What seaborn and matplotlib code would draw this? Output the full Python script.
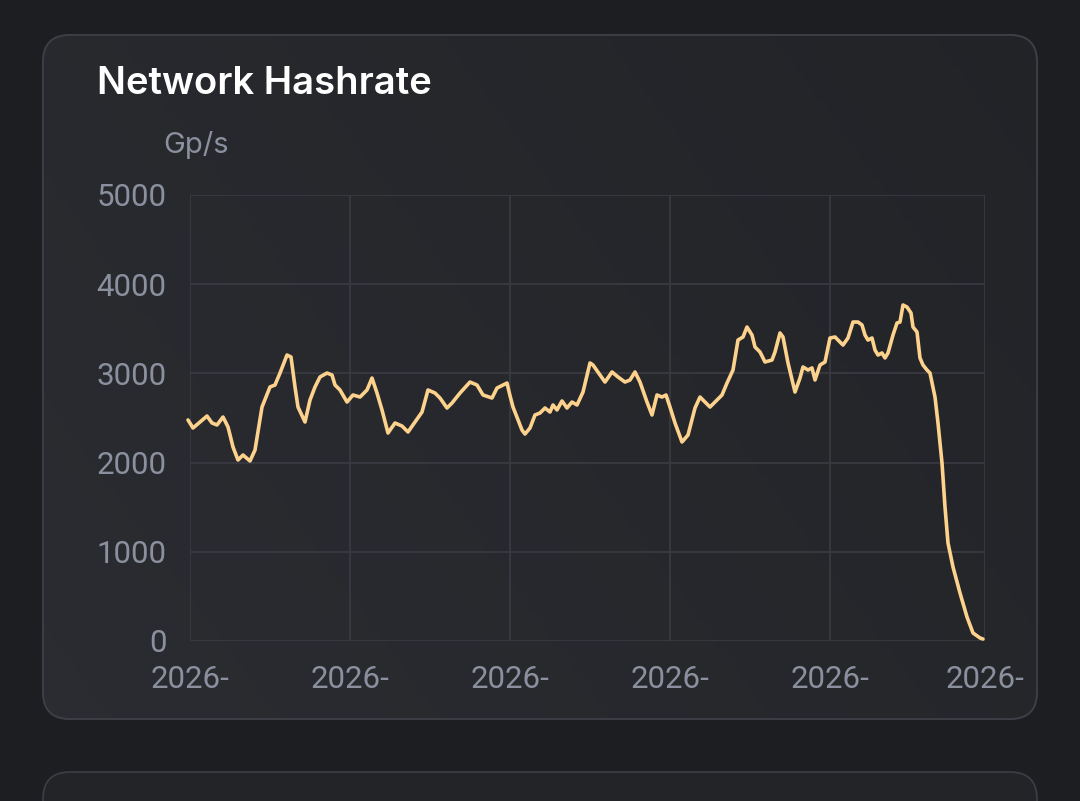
import numpy as np
import pandas as pd
import matplotlib
matplotlib.use("Agg")
import matplotlib.pyplot as plt
import seaborn as sns
from matplotlib.patches import FancyBboxPatch
from matplotlib.colors import LinearSegmentedColormap

# ---- data (x in hours from start of window, y in Gp/s) ----
hours = [-2, 3, 10, 17, 22, 27, 33, 38, 43, 48, 53, 60, 65, 72, 80, 85, 90, 97, 101, 105, 108, 115, 120, 125,
         130, 137, 142, 145, 150, 157, 163, 170, 177, 182, 187, 192, 198, 205, 212, 218, 225, 232, 238, 245,
         250, 257, 262, 270, 280, 287, 293, 302, 307, 313, 317, 320,
         323, 332, 335, 340, 345, 350, 355, 360, 363, 367, 372, 377, 382, 387, 393, 400, 403, 410, 415, 422,
         428, 435, 440, 445, 450, 457, 462, 467, 472, 476, 480, 485, 492, 498, 505, 510, 520, 527, 532, 537,
         543, 548, 553, 557, 562, 565, 570, 575, 582, 585, 590, 593, 598, 605, 610, 613, 618, 622, 625, 630, 635,
         640, 645, 650, 653, 658, 663, 668, 672, 675, 678, 682, 685, 688, 692, 695, 698, 703, 707, 710, 713,
         717, 721, 723, 727, 730, 733, 737, 740, 745, 748, 752, 755, 758, 763, 770, 777, 783, 790, 793]
hashrate = [2478, 2388, 2455, 2522, 2444, 2422, 2511, 2400, 2175, 2029, 2085, 2018, 2141, 2623, 2848, 2870,
            3004, 3206, 3184, 2848, 2623, 2455, 2702, 2848, 2960, 3004, 2982, 2870, 2814, 2679, 2758, 2735,
            2814, 2948, 2780, 2590, 2332, 2444, 2410, 2343, 2455, 2567, 2814, 2780, 2724, 2612, 2668, 2780,
            2903, 2870, 2758, 2724, 2836, 2870, 2892, 2750,
            2623, 2365, 2320, 2388, 2534, 2556, 2612, 2567, 2646, 2590, 2691, 2612, 2679, 2646, 2791, 3117,
            3094, 2982, 2903, 3016, 2960, 2903, 2926, 3016, 2903, 2679, 2534, 2758, 2735, 2758, 2623, 2444,
            2231, 2309, 2612, 2735, 2623, 2702, 2758, 2892, 3038, 3374, 3408, 3520, 3430, 3296, 3240, 3128,
            3150, 3240, 3453, 3408, 3117, 2791, 2948, 3072, 3038, 3061, 2926, 3094, 3128,
            3397, 3408, 3352, 3318, 3397, 3576, 3576, 3543, 3430, 3374, 3397, 3262, 3206, 3229, 3173, 3229,
            3430, 3565, 3576, 3767, 3744, 3677, 3520, 3464, 3173, 3094, 3038, 3004, 2735, 2444, 1996, 1502,
            1099, 830, 538, 269, 90, 34, 22]
n = min(len(hours), len(hashrate))
df = pd.DataFrame({"hour": hours[:n], "hashrate": hashrate[:n]})

tick_pos = [0, 160, 320, 480, 640, 795]
tick_labels = ["2026-"] * 6
y_ticks = [0, 1000, 2000, 3000, 4000, 5000]

# ---- style ----
BG = "#1d1e21"
GRID = "#393a41"
TXT = "#8b909e"
LINE = "#fdd28c"

sns.set_theme(style="dark")
plt.rcParams["font.family"] = ["Roboto", "DejaVu Sans"]

fig = plt.figure(figsize=(10.8, 8.01), dpi=100)
fig.patch.set_facecolor(BG)

# card with subtle gradient
card = FancyBboxPatch((43 / 1080, 1 - 719 / 801), (1037 - 43) / 1080, (719 - 35) / 801,
                      boxstyle="round,pad=0,rounding_size=0.025", transform=fig.transFigure,
                      facecolor="#26272c", edgecolor="#3c3d44", linewidth=1.3, zorder=-3,
                      mutation_aspect=1080 / 801)
fig.patches.append(card)
gax = fig.add_axes([0, 0, 1, 1], zorder=-2)
gax.set_axis_off()
gx = np.linspace(0, 1, 256)
GX, GY = np.meshgrid(gx, gx)
grad = 0.65 * (1 - GX) + 0.35 * GY
cmap = LinearSegmentedColormap.from_list("c", ["#222327", "#2c2d32"])
im = gax.imshow(grad, extent=[0, 1, 0, 1], cmap=cmap, aspect="auto", origin="upper",
                transform=fig.transFigure)
im.set_clip_path(card)
gax.set_xlim(0, 1); gax.set_ylim(0, 1)
border = FancyBboxPatch((43 / 1080, 1 - 719 / 801), (1037 - 43) / 1080, (719 - 35) / 801,
                        boxstyle="round,pad=0,rounding_size=0.025", transform=fig.transFigure,
                        facecolor="none", edgecolor="#3e3f46", linewidth=1.3, mutation_aspect=1080 / 801)
gax.add_artist(border)

# second card partially visible at bottom
card2 = FancyBboxPatch((43 / 1080, -0.1), (1037 - 43) / 1080, 0.1 + (801 - 772) / 801,
                       boxstyle="round,pad=0,rounding_size=0.025", transform=fig.transFigure,
                       facecolor="#232428", edgecolor="#3c3d44", linewidth=1.3,
                       mutation_aspect=1080 / 801)
gax.add_artist(card2)

ax = fig.add_axes([190 / 1080, 1 - 641 / 801, (985 - 190) / 1080, (641 - 195) / 801], zorder=1)
ax.set_facecolor("none")
sns.lineplot(data=df, x="hour", y="hashrate", ax=ax, color=LINE, linewidth=2.6, zorder=3)
ax.lines[-1].set_solid_joinstyle("round")
ax.lines[-1].set_clip_on(False)

ax.set_xlim(0, 795)
ax.set_ylim(0, 5000)
ax.set_xticks(tick_pos)
ax.set_xticklabels(tick_labels)
ax.set_yticks(y_ticks)
ax.set_yticklabels([str(v) for v in y_ticks])
ax.grid(True, color=GRID, linewidth=1.3)
for s in ax.spines.values():
    s.set_visible(False)
ax.tick_params(axis="both", colors=TXT, labelsize=22.5, length=0)
ax.tick_params(axis="x", pad=17)
ax.tick_params(axis="y", pad=17)
ax.set_xlabel("")
ax.set_ylabel("")

fig.text(97 / 1080, 1 - 84 / 801, "Network Hashrate", color="white", fontsize=27.5,
         fontweight="semibold", family=["Inter", "DejaVu Sans"], va="center", ha="left")
fig.text(163 / 1080, 1 - 145 / 801, "Gp/s", color=TXT, fontsize=21,
         family=["Inter", "DejaVu Sans"], va="center", ha="left")

fig.savefig("out.png", dpi=100, facecolor=BG)
